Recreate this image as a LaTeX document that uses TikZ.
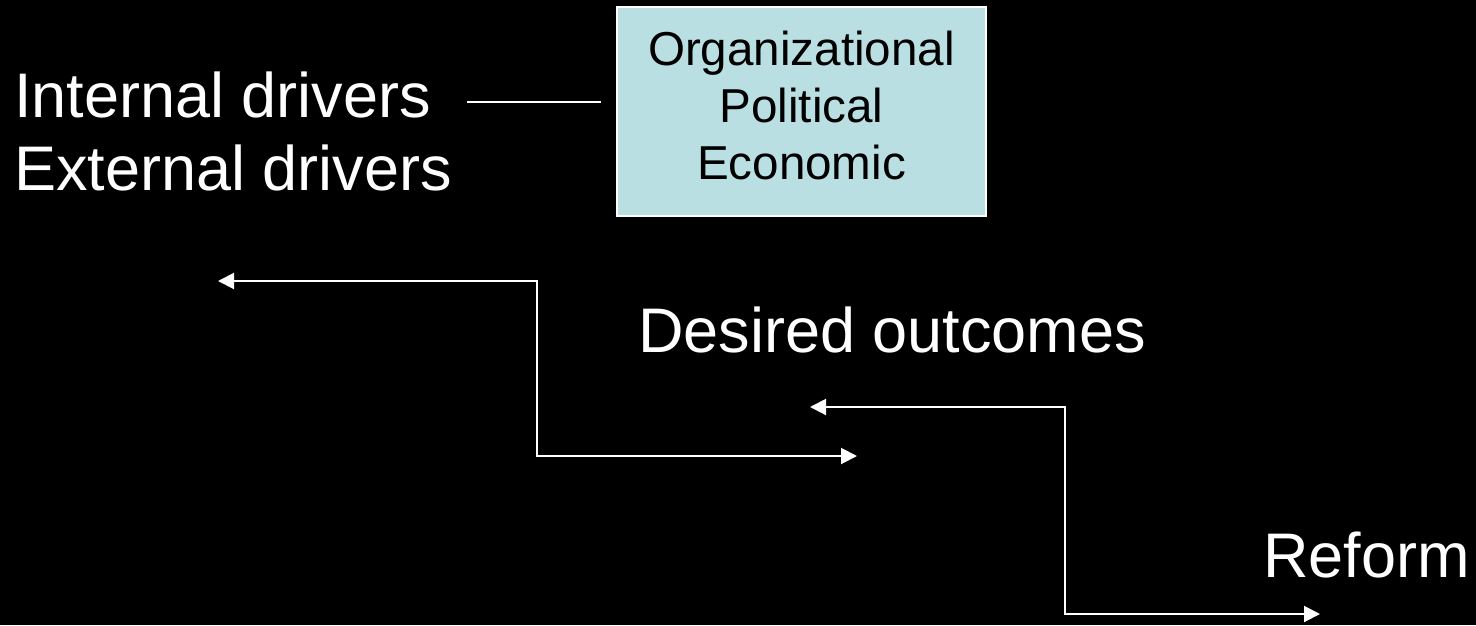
\documentclass[tikz,border=0pt]{standalone}
\usepackage{fontspec}
\setmainfont{Liberation Sans}
\usetikzlibrary{arrows.meta}
\definecolor{boxblue}{HTML}{B9DFE2}
\tikzset{
  big/.style={text=white, font=\fontsize{63}{73}\selectfont, inner sep=0pt, anchor=base west},
  conn/.style={draw=white, line width=2pt},
  elbow/.style={conn, {Triangle[length=16pt,width=16pt]}-{Triangle[length=16pt,width=16pt]}},
}
\begin{document}
\begin{tikzpicture}[x=1pt,y=-1pt]
\fill[black] (0,0) rectangle (1476,625);
\useasboundingbox (0,0) rectangle (1476,625);
\node[big] (intl) at (14,117) {Internal drivers};
\node[big] (extl) at (14,190) {External drivers};
\node[draw=white, line width=1.2pt, fill=boxblue, minimum width=369pt, minimum height=209pt, inner sep=0pt] (box) at (801.5,111.5) {};
\node[font=\fontsize{47.6}{57}\selectfont, align=center, inner sep=0pt, text=black] (boxtext) at (801.5,105.5) {Organizational\\Political\\Economic};
\node[big] (desired) at (638,352) {Desired outcomes};
\node[big] (reform) at (1263,577) {Reform};
\coordinate (la) at (467,102);
\coordinate (lb) at (601,102);
\draw[conn] (la) -- (lb);
\coordinate (a1s) at (218,281);
\coordinate (a1e) at (857,456);
\coordinate (a2s) at (810,407);
\coordinate (a2e) at (1320,614);
\draw[elbow] (a1s) -- (537,281) -- (537,456) -- (a1e);
\draw[elbow] (a2s) -- (1065,407) -- (1065,614) -- (a2e);
\end{tikzpicture}
\end{document}
